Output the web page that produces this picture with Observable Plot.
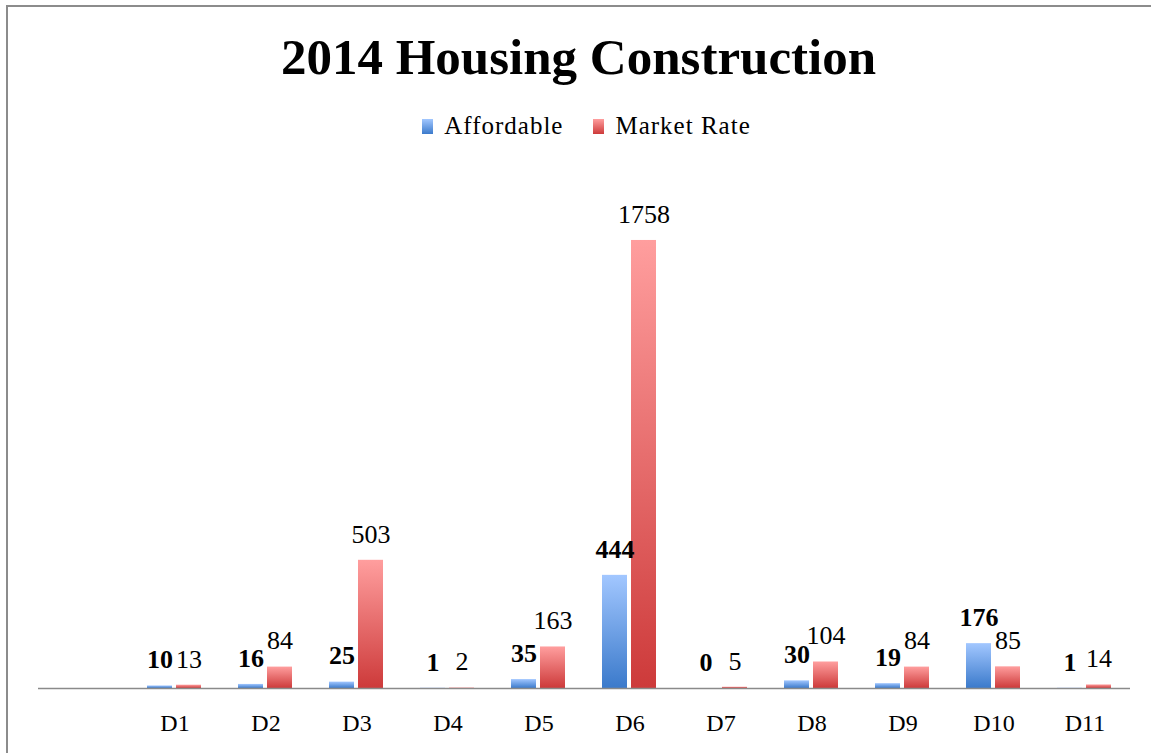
<!DOCTYPE html>
<html>
<head>
<meta charset="utf-8">
<script src="https://cdn.jsdelivr.net/npm/d3@7"></script>
<script src="https://cdn.jsdelivr.net/npm/@observablehq/plot@0.6"></script>
<style>
  html, body { margin: 0; padding: 0; background: #fff; }
  #root { position: relative; width: 1151px; height: 753px; overflow: hidden; font-family: "Liberation Serif", serif; }
  #frame { position: absolute; left: 6px; top: 5px; width: 1200px; height: 800px; border-left: 2px solid #8c8c8c; border-top: 2px solid #8c8c8c; }
  #title { position: absolute; left: 0; width: 1151px; top: 24px; text-align: center; font-weight: bold; font-size: 51px; line-height: 66px; color: #000; padding-left: 6px; box-sizing: border-box; }
  #legend { position: absolute; left: 0; width: 1151px; top: 111px; display: flex; justify-content: center; gap: 30px; font-size: 25px; letter-spacing: 1px; line-height: 30px; padding-left: 22px; box-sizing: border-box; }
  .item { display: flex; align-items: center; gap: 11px; }
  .sw { width: 11px; height: 15px; display: inline-block; }
  #chart { position: absolute; left: 0; top: 160px; }
</style>
</head>
<body>
<div id="root">
  <div id="frame"></div>
  <div id="title"></div>
  <div id="legend"></div>
  <div id="chart"></div>
</div>
<script>
const title = "2014 Housing Construction";
const seriesNames = ["Affordable", "Market Rate"];
const districts = ["D1", "D2", "D3", "D4", "D5", "D6", "D7", "D8", "D9", "D10", "D11"];
const affordable = [10, 16, 25, 1, 35, 444, 0, 30, 19, 176, 1];
const marketRate = [13, 84, 503, 2, 163, 1758, 5, 104, 84, 85, 14];

const gradients = {
  "Affordable": ["#a2c7ff", "#3b7acb"],
  "Market Rate": ["#ff9e9e", "#cd3a3a"]
};

document.getElementById("title").textContent = title;
const legend = document.getElementById("legend");
for (const s of seriesNames) {
  const it = document.createElement("div");
  it.className = "item";
  const sw = document.createElement("span");
  sw.className = "sw";
  sw.style.background = `linear-gradient(${gradients[s][0]}, ${gradients[s][1]})`;
  const t = document.createElement("span");
  t.textContent = s;
  it.appendChild(sw); it.appendChild(t);
  legend.appendChild(it);
}

const rows = [];
districts.forEach((d, i) => {
  rows.push({district: d, series: "Affordable", value: affordable[i]});
  rows.push({district: d, series: "Market Rate", value: marketRate[i]});
});
const aff = rows.filter(r => r.series === "Affordable");
const mkt = rows.filter(r => r.series === "Market Rate");
const fxDomain = ["", ...districts];

const chart = Plot.plot({
  width: 1151,
  height: 593,
  marginLeft: 37,
  marginRight: 20,
  marginTop: 18.3,
  marginBottom: 65,
  style: {fontFamily: "Liberation Serif, serif", background: "transparent", color: "#000"},
  fx: {domain: fxDomain, padding: 0, label: null},
  x: {domain: seriesNames, paddingInner: 0.133, paddingOuter: 0.587, axis: null},
  y: {domain: [0, 2000], axis: null},
  marks: [
    Plot.text([{district: ""}], {fx: "district", text: () => ""}),
    Plot.barY(aff, {fx: "district", x: "series", y: "value", fill: "url(#gBlue)", filter: d => d.value > 0}),
    Plot.barY(mkt, {fx: "district", x: "series", y: "value", fill: "url(#gRed)", filter: d => d.value > 0}),
    Plot.ruleY([0], {stroke: "#8a8a8a", strokeWidth: 1.6}),
    Plot.axisFx({anchor: "bottom", tickSize: 0, tickPadding: 25, fontSize: 24, label: null, fill: "#000"}),
    Plot.text(aff, {fx: "district", x: "series", y: "value", text: d => String(d.value), dy: -26, fontSize: 26, fontWeight: "bold", fill: "#000"}),
    Plot.text(mkt, {fx: "district", x: "series", y: "value", text: d => String(d.value), dy: -26, fontSize: 26, fill: "#000"})
  ]
});

const ns = "http://www.w3.org/2000/svg";
const defs = document.createElementNS(ns, "defs");
const ids = {"Affordable": "gBlue", "Market Rate": "gRed"};
for (const s of seriesNames) {
  const g = document.createElementNS(ns, "linearGradient");
  g.setAttribute("id", ids[s]);
  g.setAttribute("x1", "0"); g.setAttribute("y1", "0");
  g.setAttribute("x2", "0"); g.setAttribute("y2", "1");
  const s1 = document.createElementNS(ns, "stop");
  s1.setAttribute("offset", "0"); s1.setAttribute("stop-color", gradients[s][0]);
  const s2 = document.createElementNS(ns, "stop");
  s2.setAttribute("offset", "1"); s2.setAttribute("stop-color", gradients[s][1]);
  g.appendChild(s1); g.appendChild(s2);
  defs.appendChild(g);
}
chart.insertBefore(defs, chart.firstChild);
document.getElementById("chart").appendChild(chart);
</script>
</body>
</html>
